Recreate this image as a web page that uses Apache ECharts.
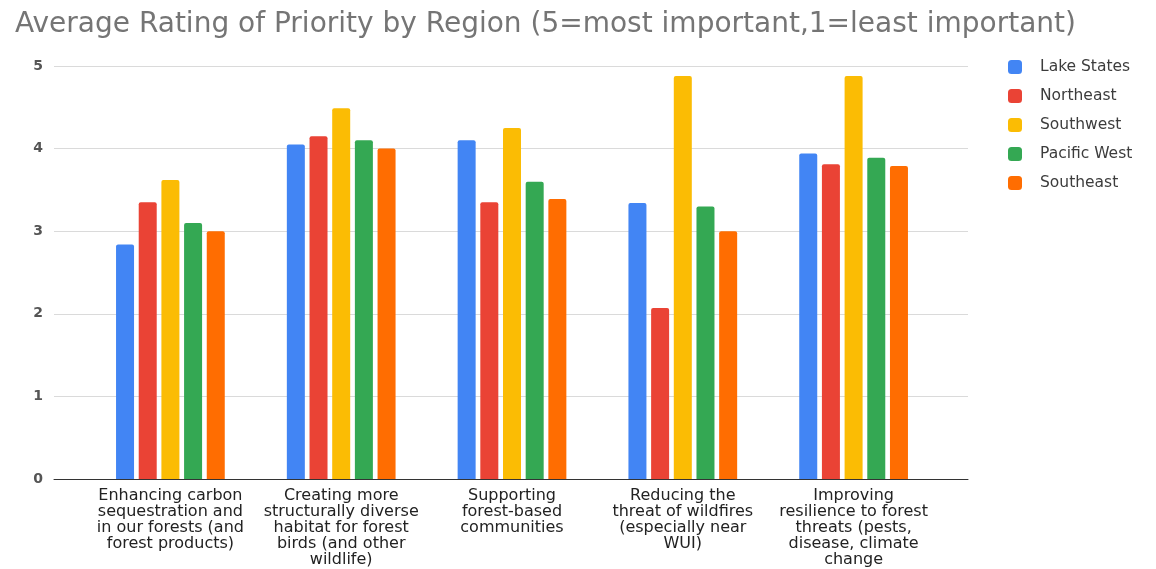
<!DOCTYPE html>
<html>
<head>
<meta charset="utf-8">
<script src="https://cdn.jsdelivr.net/npm/echarts@6/dist/echarts.min.js"></script>
<style>
  html, body { margin: 0; padding: 0; background: #fff; }
  #chart { width: 1156px; height: 569px; }
</style>
</head>
<body>
<div id="chart"></div>
<script>
// categories and series
var categories = [
    'Enhancing carbon\nsequestration and\nin our forests (and\nforest products)',
    'Creating more\nstructurally diverse\nhabitat for forest\nbirds (and other\nwildlife)',
    'Supporting\nforest-based\ncommunities',
    'Reducing the\nthreat of wildfires\n(especially near\nWUI)',
    'Improving\nresilience to forest\nthreats (pests,\ndisease, climate\nchange'
];
var regions = ['Lake States', 'Northeast', 'Southwest', 'Pacific West', 'Southeast'];
var lakeStates = [2.84, 4.05, 4.10, 3.34, 3.94];
var northeast = [3.35, 4.15, 3.35, 2.07, 3.81];
var southwest = [3.62, 4.49, 4.25, 4.88, 4.88];
var pacificWest = [3.10, 4.10, 3.60, 3.30, 3.89];
var southeast = [3.00, 4.00, 3.39, 3.00, 3.79];
var yTicks = [0, 1, 2, 3, 4, 5];

var colors = ['#4285F4', '#EA4335', '#FBBC04', '#34A853', '#FF6D01'];
var seriesData = [lakeStates, northeast, southwest, pacificWest, southeast];

var myChart = echarts.init(document.getElementById('chart'));

var series = regions.map(function (name, i) {
    return {
        name: name,
        type: 'bar',
        xAxisIndex: 1,
        yAxisIndex: 1,
        barWidth: 18,
        barGap: '26%',
        itemStyle: { color: colors[i], borderRadius: [2, 2, 0, 0] },
        data: seriesData[i]
    };
});

var option = {
    animation: false,
    color: colors,
    title: {
        text: 'Average Rating of Priority by Region (5=most important,1=least important)',
        left: 10,
        top: 6,
        textStyle: {
            fontFamily: 'DejaVu Sans',
            fontSize: 28,
            fontWeight: 'normal',
            color: '#757575'
        }
    },
    legend: {
        orient: 'vertical',
        left: 1003,
        top: 53,
        itemWidth: 14,
        itemHeight: 14,
        itemGap: 11,
        icon: 'roundRect',
        data: regions,
        textStyle: {
            fontFamily: 'DejaVu Sans',
            fontSize: 15.5,
            lineHeight: 18,
            color: '#3c3c3c',
            padding: [0, 0, 0, 13]
        }
    },
    grid: [
        // wide grid: gridlines, y labels, baseline
        { left: 54, right: 188, top: 66, bottom: 90 },
        // narrow grid: the bars
        { left: 85, right: 217, top: 66, bottom: 90 }
    ],
    xAxis: [{
        type: 'category',
        gridIndex: 0,
        data: categories,
        axisLine: { show: true, lineStyle: { color: '#333', width: 1 } },
        axisTick: { show: false },
        axisLabel: { show: false }
    }, {
        type: 'category',
        gridIndex: 1,
        data: categories,
        axisLine: { show: false },
        axisTick: { show: false },
        axisLabel: {
            interval: 0,
            margin: 9,
            fontFamily: 'DejaVu Sans',
            fontSize: 16,
            lineHeight: 16,
            color: '#222',
            align: 'center'
        }
    }],
    yAxis: [{
        type: 'value',
        gridIndex: 0,
        min: yTicks[0],
        max: yTicks[yTicks.length - 1],
        interval: 1,
        axisLine: { show: false },
        axisTick: { show: false },
        axisLabel: {
            margin: 11,
            fontFamily: 'DejaVu Sans',
            fontSize: 14,
            fontWeight: 'bold',
            color: '#555'
        },
        splitLine: { lineStyle: { color: '#dadada', width: 1 } }
    }, {
        type: 'value',
        gridIndex: 1,
        min: 0,
        max: 5,
        interval: 1,
        axisLine: { show: false },
        axisTick: { show: false },
        axisLabel: { show: false },
        splitLine: { show: false }
    }],
    series: series
};

myChart.setOption(option);
</script>
</body>
</html>
